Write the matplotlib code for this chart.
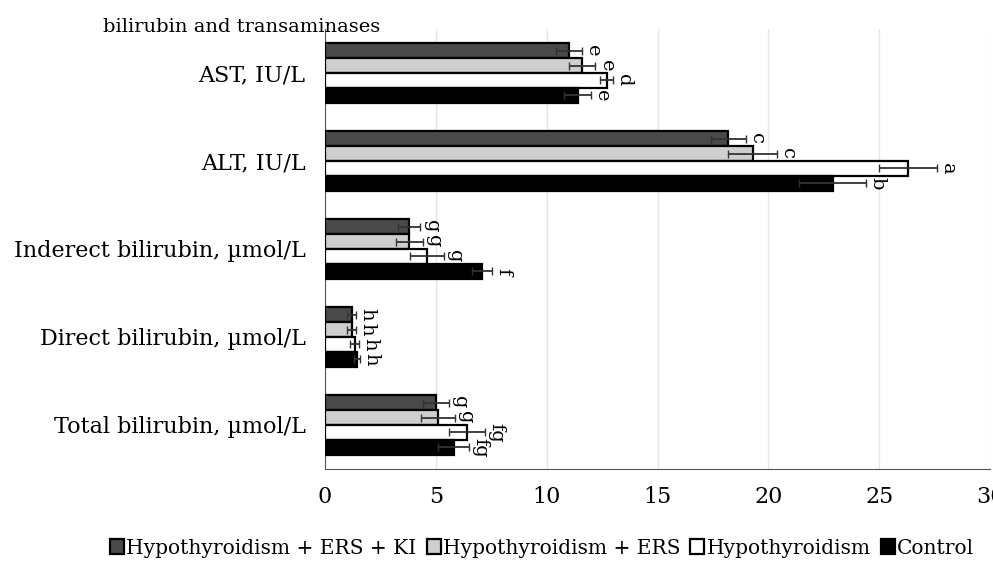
import numpy as np
import matplotlib.pyplot as plt

categories = ["AST, IU/L", "ALT, IU/L", "Inderect bilirubin, \u00b5mol/L",
              "Direct bilirubin, \u00b5mol/L", "Total bilirubin, \u00b5mol/L"]
series = ["Hypothyroidism + ERS + KI", "Hypothyroidism + ERS", "Hypothyroidism", "Control"]

ki = [11.0, 18.2, 3.8, 1.2, 5.0]
ers = [11.6, 19.3, 3.8, 1.2, 5.1]
hypo = [12.7, 26.3, 4.6, 1.35, 6.4]
control = [11.4, 22.9, 7.1, 1.45, 5.8]

ki_err = [0.6, 0.8, 0.5, 0.2, 0.6]
ers_err = [0.6, 1.1, 0.6, 0.2, 0.75]
hypo_err = [0.3, 1.3, 0.75, 0.2, 0.8]
control_err = [0.6, 1.5, 0.45, 0.15, 0.7]

letters = [["e", "e", "d", "e"],
           ["c", "c", "a", "b"],
           ["g", "g", "g", "f"],
           ["h", "h", "h", "h"],
           ["g", "g", "fg", "fg"]]

colors = ["#4a4a4a", "#cfcfcf", "#ffffff", "#000000"]

plt.rcParams['font.family'] = ['DejaVu Serif']

fig = plt.figure(figsize=(9.93, 5.68), dpi=100)
ax = fig.add_axes([325 / 993, 1 - 469 / 568, 665 / 993, 440 / 568])

vals = [ki, ers, hypo, control]
errs = [ki_err, ers_err, hypo_err, control_err]
h = 0.17
y = np.arange(len(categories))
for i in range(4):
    pos = y - 1.5 * h + i * h
    ax.barh(pos, vals[i], height=h, color=colors[i], edgecolor="black",
            linewidth=1.6, label=series[i], zorder=3)
    ax.errorbar(vals[i], pos, xerr=errs[i], fmt="none", ecolor="#333333",
                elinewidth=1.3, capsize=3, zorder=4)
    for j in range(len(categories)):
        ax.text(vals[i][j] + errs[i][j] + 0.1, pos[j], letters[j][i],
                rotation=270, va="center", ha="left", fontsize=14, zorder=5)

ax.set_xlim(0, 30)
ax.set_ylim(4.5, -0.5)
ax.set_xticks(range(0, 31, 5))
ax.set_yticks(y)
ax.set_yticklabels(categories, fontsize=16)
ax.tick_params(axis="x", labelsize=16, length=0, pad=12)
ax.tick_params(axis="y", length=0, pad=14)
ax.grid(axis="x", color="#e6e6e6", linewidth=1, zorder=0)
for s in ["top", "right"]:
    ax.spines[s].set_visible(False)
ax.spines["left"].set_color("#555555")
ax.spines["bottom"].set_color("#555555")

fig.text(103 / 993, 1 - 27 / 568, "bilirubin and transaminases", fontsize=14,
         ha="left", va="center")

fig.legend(loc="center", bbox_to_anchor=(542 / 993, 1 - 548 / 568),
           ncol=4, frameon=False, fontsize=14.5, handlelength=0.7, handleheight=0.7,
           handletextpad=0.1, columnspacing=0.5)

fig.savefig("out.png", dpi=100)
